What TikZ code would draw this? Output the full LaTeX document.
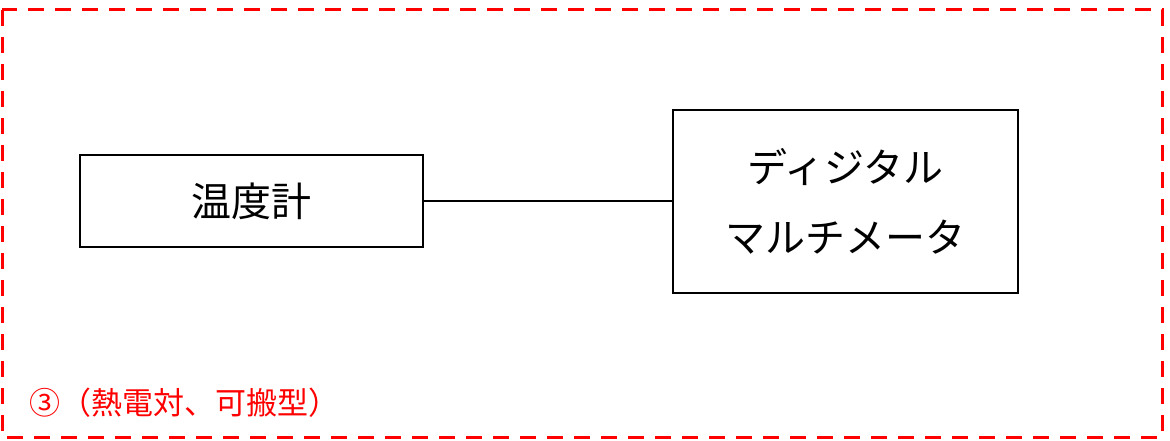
\documentclass[tikz,border=0pt]{standalone}
\usepackage{fontspec}
\newfontfamily\jpfont{Noto Sans CJK JP}
\usetikzlibrary{positioning}
\tikzset{
  unitbox/.style={draw,line width=1.2pt,minimum width=343pt,minimum height=92pt,align=center,font=\jpfont\fontsize{40}{70}\selectfont},
  areabox/.style={draw=red,line width=3pt,dash pattern=on 16pt off 11pt}
}
\begin{document}
\begin{tikzpicture}[x=1pt,y=-1pt]
  \useasboundingbox (0,0) rectangle (1170,441);
  \draw[areabox] (2,10) rectangle (1162,437);
  \node[unitbox] (thermo) at (251.5,201) {温度計};
  \node[unitbox,minimum width=345pt,minimum height=183pt] (dmm) at (845.5,201.5) {ディジタル\\マルチメータ};
  \draw[line width=1.2pt] (thermo.east) -- (dmm.west |- thermo.east);
  \node[red,anchor=west,inner sep=0pt,font=\jpfont\fontsize{31}{36}\selectfont] (area) at (29,403) {③（熱電対、可搬型）};
\end{tikzpicture}
\end{document}
